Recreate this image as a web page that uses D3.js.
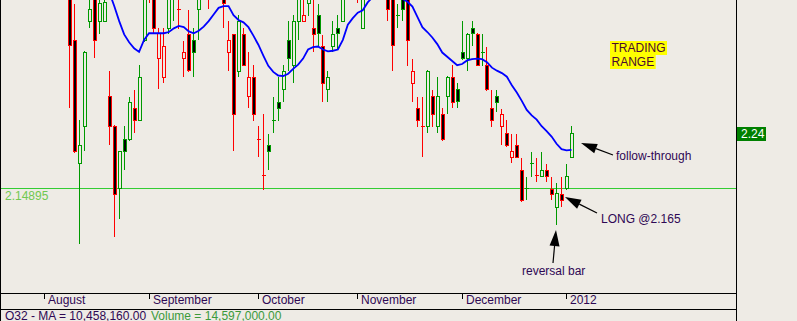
<!DOCTYPE html>
<html>
<head>
<meta charset="utf-8">
<script src="https://cdn.jsdelivr.net/npm/d3@7"></script>
<style>
  html, body { margin: 0; padding: 0; background: #eeebe5; }
  svg { display: block; font-family: "Liberation Sans", Arial, sans-serif; font-size: 12px; }
</style>
</head>
<body>
<div id="container"></div>
<script>
// daily bars, Aug 2011 - Jan 2012
var opens = [
  2.478, 2.394, 2.191, 2.251, 2.426, 2.469, 2.426, 2.426, 2.302, 2.252,
  2.149, 2.230, 2.230, 2.282, 2.262, 2.394, 2.472, 2.469, 2.364, 2.333,
  2.414, 2.472, 2.446, 2.364, 2.404, 2.394, 2.446, 2.475, 2.480, 2.475,
  2.485, 2.478, 2.374, 2.404, 2.342, 2.404, 2.302, 2.333, 2.230, 2.170,
  2.220, 2.262, 2.292, 2.313, 2.394, 2.353, 2.426, 2.426, 2.456, 2.414,
  2.436, 2.384, 2.313, 2.384, 2.414, 2.426, 2.475, 2.485, 2.488, 2.414,
  2.485, 2.495, 2.505, 2.498, 2.485, 2.464, 2.436, 2.463, 2.463, 2.323,
  2.282, 2.251, 2.251, 2.302, 2.251, 2.272, 2.301, 2.333, 2.313, 2.374,
  2.364, 2.414, 2.404, 2.374, 2.353, 2.282, 2.302, 2.251, 2.240, 2.201,
  2.220, 2.179, 2.149, 2.191, 2.170, 2.169, 2.179, 2.148, 2.118, 2.139,
  2.149, 2.201
];
var highs = [
  2.494, 2.454, 2.261, 2.375, 2.464, 2.478, 2.464, 2.464, 2.342, 2.253,
  2.211, 2.251, 2.300, 2.312, 2.352, 2.474, 2.485, 2.478, 2.413, 2.413,
  2.471, 2.490, 2.469, 2.393, 2.444, 2.413, 2.469, 2.495, 2.490, 2.495,
  2.495, 2.485, 2.425, 2.404, 2.435, 2.413, 2.374, 2.352, 2.251, 2.271,
  2.239, 2.300, 2.332, 2.352, 2.425, 2.435, 2.471, 2.464, 2.471, 2.461,
  2.454, 2.403, 2.342, 2.425, 2.435, 2.471, 2.495, 2.505, 2.498, 2.485,
  2.505, 2.515, 2.515, 2.508, 2.495, 2.469, 2.454, 2.466, 2.466, 2.363,
  2.300, 2.300, 2.344, 2.312, 2.332, 2.282, 2.334, 2.352, 2.322, 2.425,
  2.405, 2.425, 2.405, 2.404, 2.383, 2.312, 2.312, 2.280, 2.261, 2.239,
  2.239, 2.199, 2.167, 2.209, 2.199, 2.209, 2.189, 2.167, 2.158, 2.167,
  2.189, 2.251
];
var lows = [
  2.283, 2.209, 2.058, 2.212, 2.415, 2.366, 2.406, 2.425, 2.221, 2.069,
  2.099, 2.180, 2.229, 2.241, 2.261, 2.393, 2.457, 2.406, 2.314, 2.324,
  2.406, 2.427, 2.414, 2.334, 2.343, 2.334, 2.396, 2.465, 2.447, 2.465,
  2.466, 2.415, 2.344, 2.212, 2.334, 2.352, 2.283, 2.262, 2.202, 2.148,
  2.180, 2.241, 2.262, 2.293, 2.344, 2.324, 2.395, 2.425, 2.436, 2.375,
  2.384, 2.293, 2.293, 2.375, 2.381, 2.425, 2.465, 2.468, 2.457, 2.413,
  2.470, 2.478, 2.480, 2.475, 2.427, 2.344, 2.415, 2.427, 2.353, 2.293,
  2.252, 2.202, 2.241, 2.252, 2.241, 2.229, 2.273, 2.283, 2.283, 2.363,
  2.344, 2.385, 2.352, 2.353, 2.312, 2.252, 2.276, 2.221, 2.219, 2.192,
  2.200, 2.128, 2.130, 2.168, 2.160, 2.168, 2.160, 2.130, 2.090, 2.119,
  2.148, 2.200
];
var closes = [
  2.385, 2.211, 2.220, 2.374, 2.446, 2.394, 2.456, 2.457, 2.252, 2.139,
  2.210, 2.211, 2.292, 2.262, 2.333, 2.466, 2.463, 2.414, 2.405, 2.384,
  2.466, 2.482, 2.446, 2.374, 2.344, 2.374, 2.464, 2.485, 2.470, 2.485,
  2.478, 2.456, 2.394, 2.272, 2.426, 2.353, 2.333, 2.272, 2.230, 2.170,
  2.211, 2.262, 2.282, 2.343, 2.364, 2.425, 2.466, 2.436, 2.466, 2.404,
  2.405, 2.323, 2.333, 2.404, 2.405, 2.466, 2.485, 2.492, 2.478, 2.480,
  2.495, 2.505, 2.498, 2.492, 2.446, 2.385, 2.436, 2.446, 2.394, 2.343,
  2.262, 2.251, 2.343, 2.272, 2.302, 2.230, 2.333, 2.292, 2.293, 2.364,
  2.404, 2.405, 2.353, 2.374, 2.313, 2.262, 2.292, 2.272, 2.220, 2.211,
  2.201, 2.129, 2.149, 2.191, 2.170, 2.179, 2.169, 2.139, 2.140, 2.129,
  2.169, 2.240
];
// moving average, first value belongs to bar 8
var maStart = 8;
var maValues = [
  2.474, 2.451, 2.426, 2.404, 2.391, 2.381, 2.375, 2.395, 2.406, 2.406,
  2.406, 2.406, 2.408, 2.414, 2.418, 2.416, 2.409, 2.406, 2.410, 2.417,
  2.426, 2.437, 2.448, 2.451, 2.451, 2.436, 2.428, 2.424, 2.416, 2.402,
  2.387, 2.369, 2.352, 2.342, 2.336, 2.335, 2.339, 2.347, 2.354, 2.364,
  2.379, 2.383, 2.384, 2.379, 2.376, 2.377, 2.379, 2.395, 2.420, 2.431,
  2.440, 2.444, 2.457, 2.466, 2.471, 2.473, 2.471, 2.469, 2.466, 2.463,
  2.458, 2.450, 2.433, 2.416, 2.408, 2.399, 2.388, 2.374, 2.367, 2.360,
  2.353, 2.355, 2.361, 2.363, 2.364, 2.363, 2.358, 2.349, 2.344, 2.340,
  2.334, 2.320, 2.308, 2.294, 2.279, 2.270, 2.263, 2.252, 2.244, 2.235,
  2.223, 2.214, 2.212, 2.213
];
var monthLabels = ["August", "September", "October", "November", "December", "2012"];
var monthBars = [-5, 16, 38, 58, 79, 100];
var supportLevel = 2.14895;
var lastPrice = 2.24;
var footerLeft = "O32 - MA = 10,458,160.00";
var footerRight = "Volume = 14,597,000.00";

var W = 797, H = 321;
var plotRight = 736, plotBottom = 293, axisBottom = 309;
var bg = "#eeebe5", upColor = "#009900", downColor = "#ff0000", ink = "#2e0854";

var svg = d3.select("#container").append("svg")
  .attr("width", W).attr("height", H);

svg.append("rect").attr("width", W).attr("height", H).attr("fill", bg);

var x = d3.scaleLinear().domain([0, 101]).range([69.5, 571.47]);
var y = d3.scaleLinear().domain([supportLevel, lastPrice]).range([188.5, 133.5]);

svg.append("clipPath").attr("id", "plotClip")
  .append("rect").attr("x", 1).attr("y", 0).attr("width", plotRight - 1).attr("height", plotBottom);

var plot = svg.append("g").attr("clip-path", "url(#plotClip)");

// support line
var ys = Math.floor(y(supportLevel)) + 0.5;
plot.append("line")
  .attr("x1", 0).attr("x2", plotRight).attr("y1", ys).attr("y2", ys)
  .attr("stroke", "#33cc33").attr("stroke-width", 1);

svg.append("text")
  .attr("x", 5).attr("y", ys + 11)
  .attr("fill", "#70c850")
  .text("2.14895");

// candles
var bars = d3.range(opens.length).map(function (i) {
  var prev = i > 0 ? closes[i - 1] : opens[i];
  return { i: i, o: opens[i], h: highs[i], l: lows[i], c: closes[i], up: closes[i] > prev };
});

var candles = plot.append("g").attr("shape-rendering", "crispEdges");

bars.forEach(function (d) {
  var col = Math.floor(x(d.i));
  var color = d.up ? upColor : downColor;
  var g = candles.append("g");
  g.append("line")
    .attr("x1", col + 0.5).attr("x2", col + 0.5)
    .attr("y1", Math.floor(y(d.h))).attr("y2", Math.floor(y(d.l)) + 1)
    .attr("stroke", color);
  var top = Math.floor(y(Math.max(d.o, d.c))) + 0.5;
  var bot = Math.floor(y(Math.min(d.o, d.c))) + 0.5;
  if (bot - top < 1) {
    g.append("line")
      .attr("x1", col - 1).attr("x2", col + 3)
      .attr("y1", top).attr("y2", top)
      .attr("stroke", color);
  } else {
    g.append("rect")
      .attr("x", col - 0.5).attr("width", 3)
      .attr("y", top).attr("height", bot - top)
      .attr("fill", d.c < d.o ? "#000" : bg)
      .attr("stroke", color);
  }
});

// moving average
var line = d3.line()
  .x(function (v, k) { return x(maStart + k); })
  .y(function (v) { return y(v); });

plot.append("path")
  .datum(maValues)
  .attr("d", line)
  .attr("fill", "none")
  .attr("stroke", "#0000ff")
  .attr("stroke-width", 1.8);

// frame
svg.append("line").attr("x1", 0.5).attr("x2", 0.5).attr("y1", 0).attr("y2", H).attr("stroke", "#000");
svg.append("line").attr("x1", plotRight + 0.5).attr("x2", plotRight + 0.5).attr("y1", 0).attr("y2", H).attr("stroke", "#000");
[plotBottom, axisBottom].forEach(function (yy) {
  svg.append("line").attr("x1", 0).attr("x2", plotRight).attr("y1", yy + 0.5).attr("y2", yy + 0.5).attr("stroke", "#000");
});

// month axis
monthBars.forEach(function (b, k) {
  var tx = Math.floor(x(b)) + 0.5;
  svg.append("line").attr("x1", tx).attr("x2", tx)
    .attr("y1", plotBottom).attr("y2", plotBottom + 6).attr("stroke", "#000");
  svg.append("text").attr("x", tx + 3.5).attr("y", 304)
    .attr("fill", ink).text(monthLabels[k]);
});

svg.append("text").attr("x", 5).attr("y", 319.5).attr("fill", ink).text(footerLeft);
svg.append("text").attr("x", 151).attr("y", 319.5).attr("fill", "#3c9a3c").text(footerRight);

// last price tag
var yl = Math.floor(y(lastPrice));
svg.append("rect").attr("x", plotRight + 1).attr("y", yl - 6).attr("width", 29).attr("height", 14)
  .attr("fill", "#008000");
svg.append("text").attr("x", plotRight + 5).attr("y", yl + 5)
  .attr("fill", "#fff").text(lastPrice.toFixed(2));

// annotations
function arrow(tail, tip) {
  var dx = tail[0] - tip[0], dy = tail[1] - tip[1];
  var len = Math.sqrt(dx * dx + dy * dy);
  var ux = dx / len, uy = dy / len;
  var hl = 16, hw = 5;
  var bx = tip[0] + ux * hl, by = tip[1] + uy * hl;
  svg.append("line")
    .attr("x1", bx).attr("y1", by).attr("x2", tail[0]).attr("y2", tail[1])
    .attr("stroke", "#000").attr("stroke-width", 1.2);
  svg.append("path")
    .attr("d", "M" + tip[0] + "," + tip[1] +
      "L" + (bx - uy * hw) + "," + (by + ux * hw) +
      "L" + (bx + uy * hw) + "," + (by - ux * hw) + "Z")
    .attr("fill", "#000");
}

arrow([613, 155], [581, 143]);
arrow([597, 213], [565, 197]);
arrow([553, 263], [556, 230]);

svg.append("text").attr("x", 616).attr("y", 159.5).attr("fill", ink).text("follow-through");
svg.append("text").attr("x", 601).attr("y", 222.5).attr("fill", ink).text("LONG @2.165");
svg.append("text").attr("x", 522).attr("y", 274.5).attr("fill", ink).text("reversal bar");

["TRADING", "RANGE"].forEach(function (s, k) {
  var t = svg.append("text").attr("x", 611.5).attr("y", 51.5 + k * 14)
    .attr("fill", "#4a0a30").text(s);
  var w = t.node().getComputedTextLength();
  svg.insert("rect", function () { return t.node(); })
    .attr("x", 610).attr("y", 41 + k * 14).attr("width", w + 3).attr("height", 14)
    .attr("fill", "#ffff00");
});
</script>
</body>
</html>
